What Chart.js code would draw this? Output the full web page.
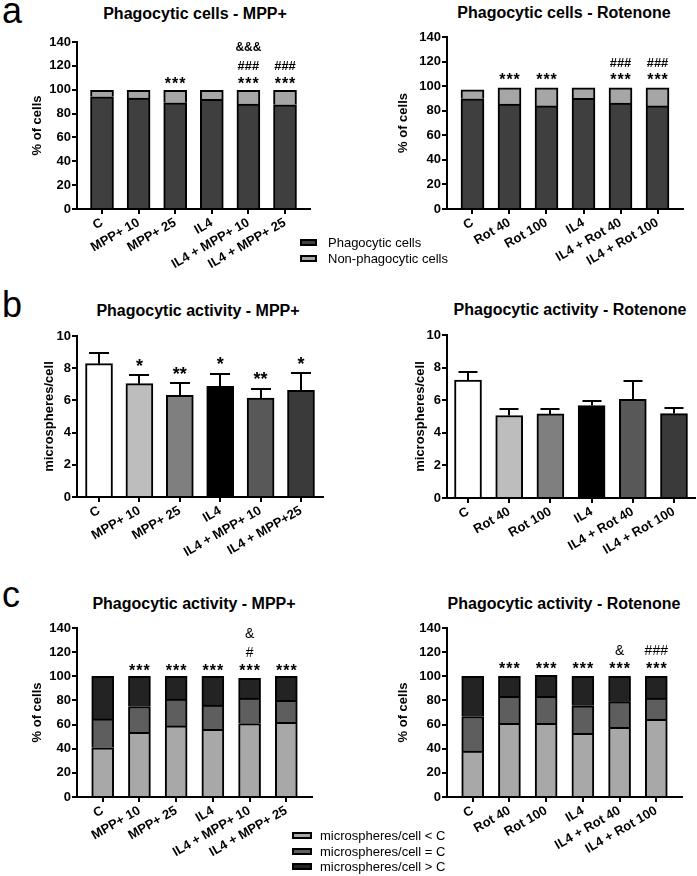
<!DOCTYPE html>
<html><head><meta charset="utf-8">
<script src="https://cdn.jsdelivr.net/npm/chart.js@4.4.0/dist/chart.umd.min.js"></script>
<style>
html,body{margin:0;padding:0;background:#fff;width:697px;height:876px;overflow:hidden;position:relative;font-family:"Liberation Sans",Arial,sans-serif;}
canvas{position:absolute;}
.t{position:absolute;white-space:nowrap;color:#000;font-family:"Liberation Sans",Arial,sans-serif;}
.box{position:absolute;border:2px solid #000;box-sizing:border-box;}
</style></head><body>
<script>
// ---------- DATA ----------
const labelsMPP  = ['C','MPP+ 10','MPP+ 25','IL4','IL4 + MPP+ 10','IL4 + MPP+ 25'];
const labelsMPPb = ['C','MPP+ 10','MPP+ 25','IL4','IL4 + MPP+ 10','IL4 + MPP+25'];
const labelsRot  = ['C','Rot 40','Rot 100','IL4','IL4 + Rot 40','IL4 + Rot 100'];

// panel a: % of cells
const aMppPhag = [94, 93, 89, 92, 88, 87.3];
const aMppNon  = [5.5, 6.5, 10.5, 7.5, 11.5, 12.2];
const aRotPhag = [89.7, 85.3, 84, 90, 86.2, 84];
const aRotNon  = [7.3, 13.4, 14.7, 8.7, 12.5, 14.7];

// panel b: microspheres/cell (mean + SD)
const bMppMean = [8.28, 7.04, 6.31, 6.87, 6.15, 6.63];
const bMppErr  = [0.66, 0.52, 0.77, 0.79, 0.56, 1.07];
const bRotMean = [7.24, 5.06, 5.16, 5.67, 6.06, 5.18];
const bRotErr  = [0.49, 0.41, 0.31, 0.29, 1.14, 0.35];

// panel c: % of cells
const cMppLess  = [40.8, 53.6, 58.9, 56.1, 60.8, 61.9];
const cMppEqual = [23.9, 21.4, 22.2, 20.0, 21.2, 18.1];
const cMppMore  = [35.3, 25.0, 18.9, 23.9, 16.3, 20.0];
const cRotLess  = [38.0, 61.0, 61.0, 52.8, 57.8, 64.4];
const cRotEqual = [28.7, 22.3, 22.3, 22.7, 21.2, 17.6];
const cRotMore  = [33.3, 16.7, 17.5, 24.5, 21.0, 18.0];

// significance labels
const aMppStars = ['', '', '***', '', '***', '***'];
const aMppHash  = ['', '', '', '', '###', '###'];
const aMppAmp   = ['', '', '', '', '&&&', ''];
const aRotStars = ['', '***', '***', '', '***', '***'];
const aRotHash  = ['', '', '', '', '###', '###'];
const bMppStars = ['', '*', '**', '*', '**', '*'];
const cMppStars = ['', '***', '***', '***', '***', '***'];
const cMppHash  = ['', '', '', '', '#', ''];
const cMppAmp   = ['', '', '', '', '&', ''];
const cRotStars = ['', '***', '***', '***', '***', '***'];
const cRotUpper = ['', '', '', '', '&', '###'];

// ---------- STYLE ----------
const COL_PHAG = '#3f3f3f', COL_NON = '#a6a6a6';
const COL_B = ['#ffffff', '#bdbdbd', '#7f7f7f', '#000000', '#585858', '#3a3a3a'];
const COL_LESS = '#a8a8a8', COL_EQ = '#5e5e5e', COL_MORE = '#232323';
const FONT = '"Liberation Sans", Arial, sans-serif';
Chart.defaults.font.family = FONT;
Chart.defaults.color = '#000';

const PAD_T = 12, PAD_R = 6;

const marksPlugin = {
  id: 'marks',
  afterDatasetsDraw(chart, _a, o) {
    const ctx = chart.ctx, xs = chart.scales.x, ys = chart.scales.y;
    ctx.save();
    ctx.strokeStyle = '#000'; ctx.lineWidth = 2; ctx.fillStyle = '#000';
    if (o.means && o.errors) {
      o.means.forEach((m, i) => {
        const px = Math.round(xs.getPixelForValue(i));
        const y0 = ys.getPixelForValue(m), y1 = Math.round(ys.getPixelForValue(m + o.errors[i]));
        ctx.beginPath();
        ctx.moveTo(px, y0); ctx.lineTo(px, y1);
        ctx.moveTo(px - o.capW / 2, y1); ctx.lineTo(px + o.capW / 2, y1);
        ctx.stroke();
      });
    }
    (o.rows || []).forEach(r => {
      ctx.font = `${r.weight || 'bold'} ${r.size}px ${FONT}`;
      ctx.textAlign = 'center'; ctx.textBaseline = 'alphabetic';
      try { ctx.letterSpacing = (r.spacing || 0) + 'px'; } catch (e) {}
      r.texts.forEach((t, i) => {
        if (!t) return;
        const px = xs.getPixelForValue(i);
        let yc;
        if (r.level != null) yc = ys.getPixelForValue(r.level);
        else yc = ys.getPixelForValue(o.means[i] + o.errors[i]) + r.offset;
        const mt = ctx.measureText(t);
        ctx.fillText(t, px + (r.spacing || 0) / 2, yc + (mt.actualBoundingBoxAscent - mt.actualBoundingBoxDescent) / 2);
      });
    });
    ctx.restore();
  }
};

function makeChart(spec, labels, datasets, y, marks) {
  const cv = document.createElement('canvas');
  const left = spec.L - spec.W, top = spec.T - PAD_T;
  const w = spec.R + PAD_R - left, h = spec.B + spec.H - top;
  cv.width = w; cv.height = h;
  cv.style.left = left + 'px'; cv.style.top = top + 'px';
  cv.style.width = w + 'px'; cv.style.height = h + 'px';
  document.body.appendChild(cv);
  const axisGrid = { display: true, drawOnChartArea: false, drawTicks: true, tickLength: 5, color: '#000', lineWidth: 2, offset: false };
  const axisBorder = { display: true, color: '#000', width: 2 };
  return new Chart(cv, {
    type: 'bar',
    data: { datasets },
    options: {
      responsive: false, animation: false, devicePixelRatio: 1,
      layout: { padding: { top: PAD_T, right: PAD_R, left: 0, bottom: 0 } },
      plugins: { legend: { display: false }, tooltip: { enabled: false }, marks },
      scales: {
        x: {
          type: 'linear', stacked: true, offset: false, bounds: 'data', min: -spec.m, max: labels.length - 1 + spec.m,
          afterBuildTicks: s => { s.ticks = labels.map((_, i) => ({ value: i })); },
          afterFit: s => { s.height = spec.H; },
          ticks: { autoSkip: false, includeBounds: false, stepSize: 1, minRotation: 30, maxRotation: 30, padding: 1, color: '#000',
                   font: { size: 13, weight: 'bold' }, callback: v => labels[v] },
          grid: axisGrid, border: axisBorder
        },
        y: {
          stacked: true, min: 0, max: y.max,
          afterFit: s => { s.width = spec.W; },
          ticks: { stepSize: y.step, padding: 1, color: '#000', font: { size: 13, weight: 'bold' } },
          title: { display: true, text: y.title, color: '#000', font: { size: 13, weight: 'bold' }, padding: { top: 4, bottom: 4 } },
          grid: axisGrid, border: axisBorder
        }
      }
    },
    plugins: [marksPlugin]
  });
}

const pts = arr => arr.map((v, i) => ({ x: i, y: v }));
const seg = (label, arr, color, thick) => ({ label, data: pts(arr), backgroundColor: color, borderColor: '#000', borderWidth: 2, barThickness: thick });

// ---------- PANEL a ----------
makeChart({ L: 77, T: 42, R: 310, B: 209, W: 51, H: 80, m: 0.683 }, labelsMPP,
  [seg('Phagocytic cells', aMppPhag, COL_PHAG, 23), seg('Non-phagocytic cells', aMppNon, COL_NON, 23)],
  { max: 140, step: 20, title: '% of cells' },
  { rows: [ { texts: aMppStars, level: 108, size: 16, spacing: 1 },
            { texts: aMppHash, level: 120, size: 13 },
            { texts: aMppAmp, level: 136, size: 12 } ] });

makeChart({ L: 447, T: 37, R: 683, B: 209, W: 55, H: 80, m: 0.689 }, labelsRot,
  [seg('Phagocytic cells', aRotPhag, COL_PHAG, 23), seg('Non-phagocytic cells', aRotNon, COL_NON, 23)],
  { max: 140, step: 20, title: '% of cells' },
  { rows: [ { texts: aRotStars, level: 108, size: 16, spacing: 1 },
            { texts: aRotHash, level: 119.5, size: 13 } ] });

// ---------- PANEL b ----------
makeChart({ L: 77, T: 336, R: 323, B: 497, W: 39, H: 80, m: 0.545 }, labelsMPPb,
  [{ label: 'microspheres/cell', data: pts(bMppMean), backgroundColor: COL_B, borderColor: '#000', borderWidth: 2, barThickness: 27 }],
  { max: 10, step: 2, title: 'microspheres/cell' },
  { means: bMppMean, errors: bMppErr, capW: 20,
    rows: [ { texts: bMppStars, offset: -13, size: 18, spacing: 0 } ] });

makeChart({ L: 447, T: 335, R: 695, B: 498, W: 38, H: 80, m: 0.51 }, labelsRot,
  [{ label: 'microspheres/cell', data: pts(bRotMean), backgroundColor: COL_B, borderColor: '#000', borderWidth: 2, barThickness: 27 }],
  { max: 10, step: 2, title: 'microspheres/cell' },
  { means: bRotMean, errors: bRotErr, capW: 19, rows: [] });

// ---------- PANEL c ----------
makeChart({ L: 77, T: 628, R: 312, B: 797, W: 51, H: 80, m: 0.70 }, labelsMPP,
  [seg('microspheres/cell < C', cMppLess, COL_LESS, 22), seg('microspheres/cell = C', cMppEqual, COL_EQ, 22), seg('microspheres/cell > C', cMppMore, COL_MORE, 22)],
  { max: 140, step: 20, title: '% of cells' },
  { rows: [ { texts: cMppStars, level: 107, size: 16, spacing: 1 },
            { texts: cMppHash, level: 120, size: 14, weight: 'normal' },
            { texts: cMppAmp, level: 136, size: 14, weight: 'normal' } ] });

makeChart({ L: 447, T: 628, R: 682, B: 797, W: 55, H: 80, m: 0.70 }, labelsRot,
  [seg('microspheres/cell < C', cRotLess, COL_LESS, 22), seg('microspheres/cell = C', cRotEqual, COL_EQ, 22), seg('microspheres/cell > C', cRotMore, COL_MORE, 22)],
  { max: 140, step: 20, title: '% of cells' },
  { rows: [ { texts: cRotStars, level: 109, size: 16, spacing: 1 },
            { texts: cRotUpper, level: 122, size: 14, weight: 'normal' } ] });

// ---------- TEXT / LEGENDS ----------
function txt(s, x, baseline, size, weight, align) {
  const d = document.createElement('div');
  d.className = 't';
  d.textContent = s;
  d.style.fontSize = size + 'px';
  d.style.lineHeight = size + 'px';
  d.style.fontWeight = weight;
  d.style.top = (baseline - 0.8465 * size) + 'px';
  if (align === 'center') { d.style.left = (x - 200) + 'px'; d.style.width = '400px'; d.style.textAlign = 'center'; }
  else d.style.left = x + 'px';
  document.body.appendChild(d);
}
function box(x, y, w, h, color) {
  const d = document.createElement('div');
  d.className = 'box';
  Object.assign(d.style, { left: x + 'px', top: y + 'px', width: w + 'px', height: h + 'px', background: color });
  document.body.appendChild(d);
}
txt('a', 2, 23, 36, 'normal');
txt('b', 2, 317, 36, 'normal');
txt('c', 2, 607, 36, 'normal');
txt('Phagocytic cells - MPP+', 195, 20, 16, 'bold', 'center');
txt('Phagocytic cells - Rotenone', 564, 19, 16, 'bold', 'center');
txt('Phagocytic activity - MPP+', 198, 317, 16, 'bold', 'center');
txt('Phagocytic activity - Rotenone', 570, 316, 16, 'bold', 'center');
txt('Phagocytic activity - MPP+', 194, 610, 16, 'bold', 'center');
txt('Phagocytic activity - Rotenone', 564, 610, 16, 'bold', 'center');

box(300, 239, 17, 7, COL_PHAG); txt('Phagocytic cells', 328, 247, 13, 'normal');
box(300, 255, 17, 7, COL_NON);  txt('Non-phagocytic cells', 328, 263, 13, 'normal');

box(292, 832, 20, 7, COL_LESS); txt('microspheres/cell < C', 320, 840.5, 13, 'normal');
box(292, 848, 20, 7, COL_EQ);   txt('microspheres/cell = C', 320, 856.5, 13, 'normal');
box(292, 863, 20, 7, COL_MORE); txt('microspheres/cell > C', 320, 871.5, 13, 'normal');
</script>
</body></html>
